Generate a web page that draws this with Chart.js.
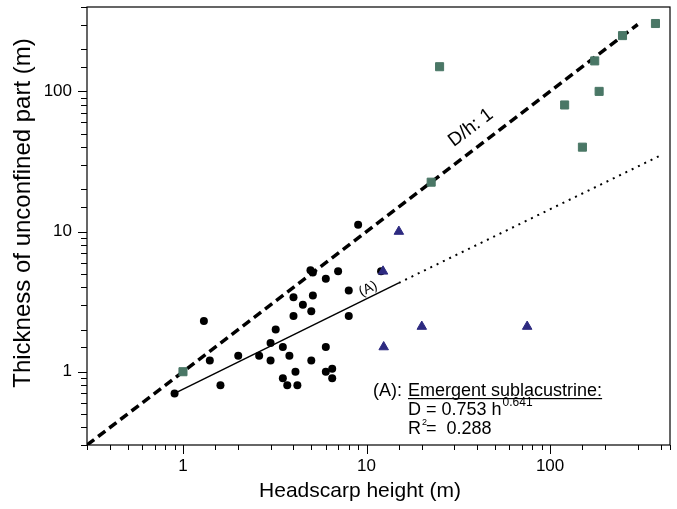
<!DOCTYPE html>
<html>
<head>
<meta charset="utf-8">
<script src="https://cdn.jsdelivr.net/npm/chart.js@4.4.0/dist/chart.umd.min.js"></script>
<style>
  body { margin: 0; background: #fff; }
  #wrap { width: 677px; height: 509px; }
</style>
</head>
<body>
<div id="wrap"><canvas id="chart"></canvas></div>
<script>
// Emergent sublacustrine (black dots)
const dotsH = [9, 5.1, 4.95, 7.0, 6.0, 8.0, 4.0, 5.1, 4.5, 5.0, 4.0, 8.0, 1.3, 3.2, 3.0, 3.5, 6.0, 1.4, 2.0, 2.6,
               3.0, 3.8, 5.0, 4.1, 3.5, 6.0, 6.5, 6.5, 1.6, 3.7, 4.2, 0.9, 12];
const dotsD = [11.2, 5.1, 5.3, 5.2, 4.6, 3.8, 3.4, 3.5, 3.0, 2.7, 2.5, 2.5, 2.3, 2.0, 1.6, 1.5, 1.5, 1.2, 1.3, 1.3,
               1.2, 1.3, 1.2, 1.0, 0.9, 1.0, 1.05, 0.9, 0.8, 0.8, 0.8, 0.7, 5.2];
// triangles
const triH = [15, 12.3, 20, 75, 12.4];
const triD = [10, 5.2, 2.1, 2.1, 1.5];
// squares
const sqH = [1.0, 22.5, 25, 120, 150, 175, 185, 248, 375];
const sqD = [1.0, 22.5, 150, 80, 40, 165, 100, 250, 305];
// D/h = 1 reference line
const ratioH = [0.3, 300];
const ratioD = [0.3, 300];
// fit (A) and its extension
const fitH = [0.9, 15];
const fitD = [0.70, 4.3];
const fitExtH = [15, 410];
const fitExtD = [4.3, 35.5];
// labelled ticks
const xTickLabels = [1, 10, 100];
const yTickLabels = [1, 10, 100];

const pts = (xs, ys) => xs.map((v, i) => ({x: v, y: ys[i]}));
const FONT = '"Liberation Sans", Arial, sans-serif';

const decor = {
  id: 'decor',
  afterDraw(chart) {
    const {ctx, chartArea: a, scales: {x, y}} = chart;
    ctx.save();
    ctx.strokeStyle = '#000';
    ctx.lineWidth = 1.2;
    ctx.strokeRect(a.left, a.top, a.right - a.left, a.bottom - a.top);

    // tick marks
    ctx.lineWidth = 1;
    ctx.beginPath();
    x.ticks.forEach(t => {
      const px = Math.round(x.getPixelForValue(t.value)) + 0.5;
      const len = xTickLabels.includes(t.value) ? 9 : 5;
      ctx.moveTo(px, a.bottom);
      ctx.lineTo(px, a.bottom + len);
    });
    y.ticks.forEach(t => {
      const py = Math.round(y.getPixelForValue(t.value)) + 0.5;
      const len = yTickLabels.includes(t.value) ? 9 : 6;
      ctx.moveTo(a.left, py);
      ctx.lineTo(a.left - len, py);
    });
    ctx.stroke();

    ctx.fillStyle = '#000';
    ctx.textAlign = 'center';
    ctx.textBaseline = 'middle';

    // axis titles
    ctx.font = '21px ' + FONT;
    ctx.fillText('Headscarp height (m)', 360, 491);
    ctx.save();
    ctx.translate(23, 213);
    ctx.rotate(-Math.PI / 2);
    ctx.font = '24px ' + FONT;
    ctx.fillText('Thickness of unconfined part (m)', 0, 0);
    ctx.restore();

    // line labels
    ctx.save();
    ctx.translate(x.getPixelForValue(37), y.getPixelForValue(55));
    ctx.rotate(-37 * Math.PI / 180);
    ctx.font = '19px ' + FONT;
    ctx.fillText('D/h: 1', 0, 0);
    ctx.restore();

    ctx.save();
    ctx.translate(x.getPixelForValue(10.2), y.getPixelForValue(3.9));
    ctx.rotate(-27 * Math.PI / 180);
    ctx.font = '14px ' + FONT;
    ctx.fillText('(A)', 0, 0);
    ctx.restore();

    // equation block
    ctx.textAlign = 'left';
    ctx.textBaseline = 'alphabetic';
    ctx.font = '18px ' + FONT;
    const x0 = 373, x1 = 408;
    ctx.fillText('(A):', x0, 396);
    const head = 'Emergent sublacustrine:';
    ctx.fillText(head, x1, 396);
    const hw = ctx.measureText(head).width;
    ctx.fillRect(x1, 398, hw, 1.2);

    const eq = 'D = 0.753 h';
    ctx.fillText(eq, x1, 415);
    const ew = ctx.measureText(eq).width;
    ctx.font = '12px ' + FONT;
    ctx.fillText('0.641', x1 + ew + 1, 406);

    ctx.font = '18px ' + FONT;
    ctx.fillText('R', x1, 434);
    const rw = ctx.measureText('R').width;
    ctx.font = '9px ' + FONT;
    ctx.fillText('2', x1 + rw + 1, 425);
    ctx.font = '18px ' + FONT;
    ctx.fillText('=  0.288', x1 + rw + 5, 434);
    ctx.restore();
  }
};

new Chart(document.getElementById('chart'), {
  type: 'scatter',
  data: {
    datasets: [
      {
        data: pts(triH, triD), order: 0,
        pointStyle: 'triangle', pointRadius: 5.5,
        backgroundColor: '#2d2a80', borderColor: '#2d2a80', borderWidth: 1
      },
      {
        data: pts(sqH, sqD), order: 1,
        pointStyle: 'rect', pointRadius: 5.7,
        backgroundColor: '#4a7766', borderColor: '#4a7766', borderWidth: 1
      },
      {
        data: pts(dotsH, dotsD), order: 2,
        pointStyle: 'circle', pointRadius: 4,
        backgroundColor: '#000', borderColor: '#000', borderWidth: 0
      },
      {
        data: pts(ratioH, ratioD), order: 3, showLine: true,
        pointRadius: 0, borderColor: '#000', borderWidth: 3.5, borderDash: [9, 5]
      },
      {
        data: pts(fitH, fitD), order: 3, showLine: true,
        pointRadius: 0, borderColor: '#000', borderWidth: 1.5
      },
      {
        data: pts(fitExtH, fitExtD), order: 3, showLine: true,
        pointRadius: 0, borderColor: '#000', borderWidth: 2, borderDash: [2, 5]
      }
    ]
  },
  options: {
    responsive: true,
    maintainAspectRatio: false,
    animation: false,
    layout: { padding: { top: 7, right: 7, left: 0, bottom: 0 } },
    plugins: { legend: { display: false }, tooltip: { enabled: false } },
    scales: {
      x: {
        type: 'logarithmic', min: 0.3, max: 450,
        grid: { display: false, drawTicks: false },
        border: { display: false },
        afterFit: s => { s.height = 64; s.paddingLeft = 0; s.paddingRight = 0; },
        ticks: {
          autoSkip: false, maxRotation: 0, padding: 11, color: '#000',
          font: { family: FONT, size: 17 },
          callback: v => xTickLabels.includes(v) ? String(v) : ''
        }
      },
      y: {
        type: 'logarithmic', min: 0.3, max: 400,
        grid: { display: false, drawTicks: false },
        border: { display: false },
        afterFit: s => { s.width = 87; s.paddingTop = 0; s.paddingBottom = 0; },
        ticks: {
          autoSkip: false, padding: 15, color: '#000',
          font: { family: FONT, size: 17 },
          callback: v => yTickLabels.includes(v) ? String(v) : ''
        }
      }
    }
  },
  plugins: [decor]
});
</script>
</body>
</html>
